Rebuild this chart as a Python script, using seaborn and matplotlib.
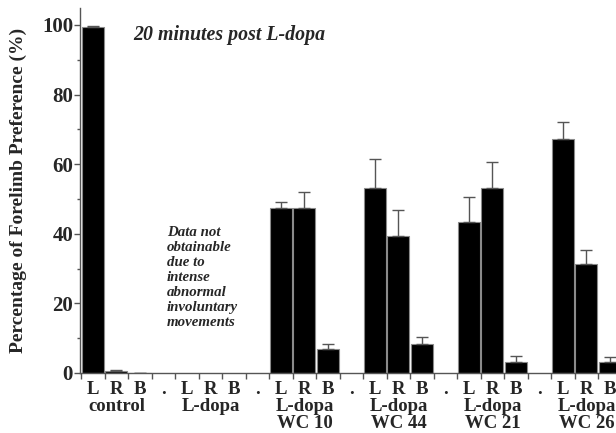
import numpy as np
import pandas as pd
import matplotlib
matplotlib.use("Agg")
import matplotlib.pyplot as plt
from matplotlib.ticker import MultipleLocator, FixedLocator
import seaborn as sns

# Forelimb preference (%) per group: L = left, R = right, B = both
groups = ["control", "L-dopa", "L-dopa\nWC 10", "L-dopa\nWC 44", "L-dopa\nWC 21", "L-dopa\nWC 26"]
limbs = ["L", "R", "B"]
mean_L = [99.5, np.nan, 47.3, 53.3, 43.3, 67.3]
mean_R = [0.7, np.nan, 47.3, 39.3, 53.3, 31.3]
mean_B = [0.0, np.nan, 6.8, 8.2, 3.3, 3.3]
sem_L = [0.3, np.nan, 1.7, 8.1, 7.2, 4.9]
sem_R = [0.3, np.nan, 4.8, 7.4, 7.2, 4.0]
sem_B = [0.0, np.nan, 1.6, 2.1, 1.6, 1.4]

# Lay the bars out as L R B . L R B . ... with a spacer slot between groups
rows = []
pos = 0
tick_text = []
group_centers = []
for g in range(len(groups)):
    for k, (m, s) in enumerate(zip([mean_L[g], mean_R[g], mean_B[g]],
                                   [sem_L[g], sem_R[g], sem_B[g]])):
        rows.append({"pos": pos, "value": m, "sem": s})
        tick_text.append(limbs[k])
        if k == 1:
            group_centers.append(pos)
        pos += 1
    if g < len(groups) - 1:
        rows.append({"pos": pos, "value": np.nan, "sem": np.nan})
        tick_text.append(".")
        pos += 1
df = pd.DataFrame(rows)

sns.set_theme(style="white")
plt.rcParams["font.family"] = ["Liberation Serif", "DejaVu Serif"]

fig = plt.figure(figsize=(6.16, 4.33), dpi=100)
ax_h = 365.4
ax = fig.add_axes([80 / 616, 60 / 433, 536 / 616, ax_h / 433])

sns.barplot(data=df, x="pos", y="value", order=list(range(len(df))),
            color="black", edgecolor="#8a8a8a", linewidth=0.8,
            width=0.94, errorbar=None, ax=ax, saturation=1)

valid = df.dropna()
ax.errorbar(valid["pos"], valid["value"],
            yerr=[np.zeros(len(valid)), valid["sem"]],
            fmt="none", ecolor="#555555", elinewidth=1.0, capsize=4, capthick=1.0)

ax.set_xlim(-0.55, 22.26)
ax.set_ylim(0, 105)

# Axes styling
for side in ["top", "right"]:
    ax.spines[side].set_visible(False)
for side in ["left", "bottom"]:
    ax.spines[side].set_color("#555555")
    ax.spines[side].set_linewidth(1.0)

ax.yaxis.set_major_locator(MultipleLocator(20))
ax.yaxis.set_minor_locator(MultipleLocator(10))
ax.tick_params(axis="y", which="major", left=True, length=4, width=1, color="#555555",
               labelsize=15, pad=1)
ax.tick_params(axis="y", which="minor", left=True, length=2.5, width=1, color="#555555")
for t in ax.get_yticklabels():
    t.set_fontweight("bold")

ax.set_xticks(range(len(df)))
ax.set_xticklabels(tick_text, fontsize=13.5, fontweight="bold")
ax.xaxis.set_minor_locator(FixedLocator(np.arange(len(df) + 1) - 0.5))
ax.tick_params(axis="x", which="major", bottom=True, length=0, pad=6)
ax.tick_params(axis="x", which="minor", bottom=True, length=4, width=1, color="#555555")

ax.set_xlabel("")
ax.set_ylabel("Percentage of Forelimb Preference (%)", fontsize=14, fontweight="bold")
ax.yaxis.set_label_coords(-0.099, 0.5)

# Group names beneath the limb letters, one row per line (baselines in pixels)
xt = ax.get_xaxis_transform()
line_baselines_px = [411, 428.5]
for c, name in zip(group_centers, groups):
    for line, ypx in zip(name.split("\n"), line_baselines_px):
        ax.text(c, -(ypx - 373) / ax_h, line, transform=xt, ha="center",
                va="baseline", fontsize=13.5, fontweight="bold", clip_on=False)

ax.text(0.099, 0.925, "20 minutes post L-dopa", transform=ax.transAxes,
        ha="left", va="center", fontsize=14.3, fontweight="bold", fontstyle="italic")

ax.text(0.1623, 0.403,
        "Data not\nobtainable\ndue to\nintense\nabnormal\ninvoluntary\nmovements",
        transform=ax.transAxes, ha="left", va="top", fontsize=10.7,
        fontweight="bold", fontstyle="italic", linespacing=1.2)

fig.savefig("out.png", dpi=100)
